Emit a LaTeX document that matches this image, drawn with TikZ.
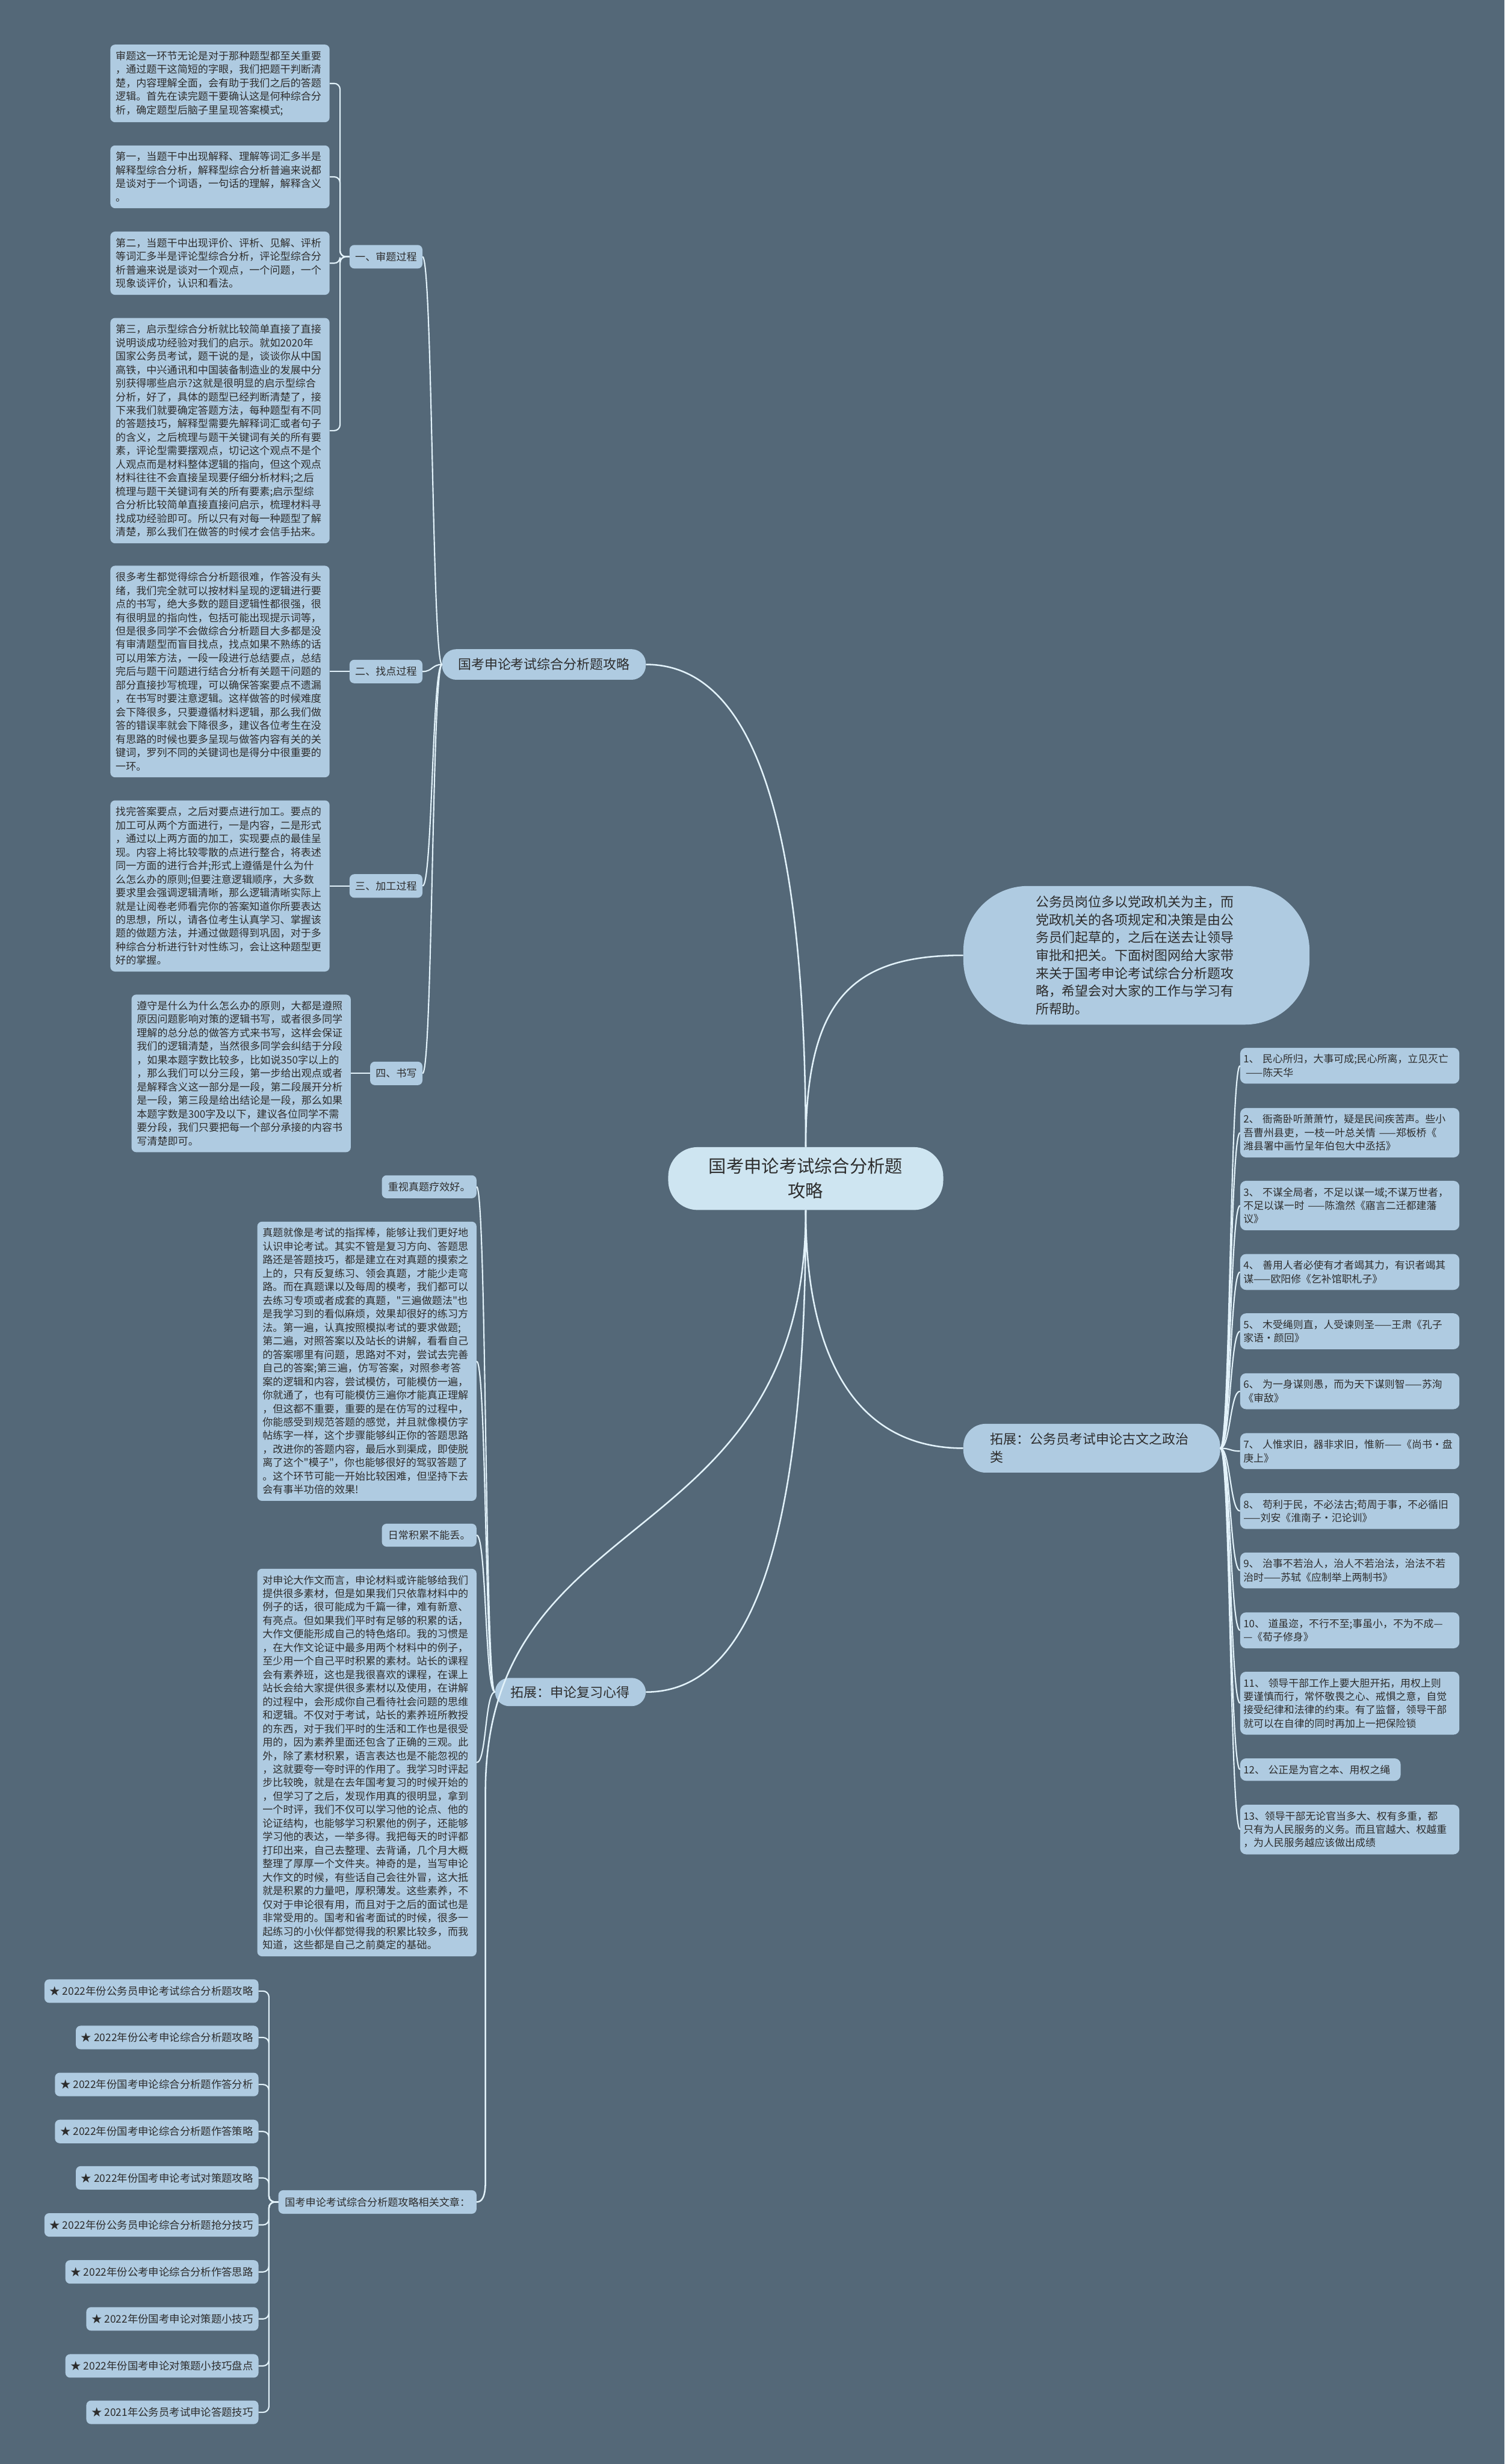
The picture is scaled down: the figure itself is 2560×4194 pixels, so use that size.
\documentclass[tikz,border=0pt]{standalone}
\usepackage{fontspec}
\newfontfamily\cjk{Noto Sans CJK SC}
\usepackage{xcolor}
\usepackage{tikz}
\definecolor{slatebg}{RGB}{84,104,120}
\definecolor{paleblue}{RGB}{175,203,225}
\definecolor{rootblue}{RGB}{206,229,241}
\definecolor{wireblue}{RGB}{226,242,250}
\definecolor{inkgray}{RGB}{45,45,45}

\begin{document}
\begin{tikzpicture}[x=1pt,y=-1pt,
 every node/.style={fill=paleblue,text=inkgray,inner sep=0pt},
 leaf/.style={rounded corners=8pt,align=left,text width=355pt,inner xsep=9pt,inner ysep=11pt,
              font=\cjk\fontsize{17.5}{23}\selectfont},
 saying/.style={leaf,rounded corners=10pt,text width=362pt,inner xsep=5.5pt,
                font=\cjk\fontsize{17.3}{23}\selectfont},
 tag/.style={rounded corners=8pt,minimum height=40pt,inner xsep=9.5pt,
             font=\cjk\fontsize{17.5}{23}\selectfont},
 article/.style={tag,inner xsep=9pt,font=\cjk\fontsize{17.8}{23}\selectfont,anchor=east},
 pill/.style={rounded corners=24pt,minimum height=52pt,inner xsep=27pt,
              font=\cjk\fontsize{22.5}{30.5}\selectfont},
 main/.style={draw=wireblue,line width=2.6pt},
 twig/.style={draw=wireblue,line width=2.2pt},
 elbow/.style={twig,rounded corners=10pt}]
 \fill[slatebg] (0,0) rectangle (2560,4194);
 \useasboundingbox (0,0) rectangle (2560,4194);

 \node[rounded corners=50pt,fill=rootblue,minimum width=468pt,minimum height=107pt,align=center,
       font=\cjk\fontsize{30}{42}\selectfont] (root) at (1371,2006) {国考申论考试综合分析题\\攻略};
 \node[rounded corners=110pt,text width=343pt,align=left,inner xsep=123pt,minimum height=236pt,
       font=\cjk\fontsize{22.5}{30.4}\selectfont,anchor=west] (intro) at (1639,1626)
       {公务员岗位多以党政机关为主，而\\党政机关的各项规定和决策是由公\\务员们起草的，之后在送去让领导\\审批和把关。下面树图网给大家带\\来关于国考申论考试综合分析题攻\\略，希望会对大家的工作与学习有\\所帮助。};
 \node[pill,rounded corners=38pt,text width=345pt,align=left,inner xsep=46pt,minimum height=83pt,
       anchor=west] (ext) at (1639,2465) {拓展：公务员考试申论古文之政治\\类};
 \node[pill,anchor=east] (gk) at (1099,1131) {国考申论考试综合分析题攻略};
 \node[pill,minimum height=48pt,anchor=east] (xd) at (1099,2880) {拓展：申论复习心得};
 \node[tag,inner xsep=11pt,anchor=east] (rel) at (811,3748) {国考申论考试综合分析题攻略相关文章：};

 \node[tag,anchor=east] (shen) at (719,437) {一、审题过程};
 \node[tag,anchor=east] (zhao) at (719,1143) {二、找点过程};
 \node[tag,anchor=east] (jia) at (719,1508) {三、加工过程};
 \node[tag,anchor=east] (shu) at (719,1827) {四、书写};

 \node[leaf,anchor=east] (shen1) at (561,142) {审题这一环节无论是对于那种题型都至关重要\\，通过题干这简短的字眼，我们把题干判断清\\楚，内容理解全面，会有助于我们之后的答题\\逻辑。首先在读完题干要确认这是何种综合分\\析，确定题型后脑子里呈现答案模式;};
 \node[leaf,anchor=east] (shen2) at (561,301) {第一，当题干中出现解释、理解等词汇多半是\\解释型综合分析，解释型综合分析普遍来说都\\是谈对于一个词语，一句话的理解，解释含义\\。};
 \node[leaf,anchor=east] (shen3) at (561,448) {第二，当题干中出现评价、评析、见解、评析\\等词汇多半是评论型综合分析，评论型综合分\\析普遍来说是谈对一个观点，一个问题，一个\\现象谈评价，认识和看法。};
 \node[leaf,anchor=east] (shen4) at (561,733) {第三，启示型综合分析就比较简单直接了直接\\说明谈成功经验对我们的启示。就如2020年\\国家公务员考试，题干说的是，谈谈你从中国\\高铁，中兴通讯和中国装备制造业的发展中分\\别获得哪些启示?这就是很明显的启示型综合\\分析，好了，具体的题型已经判断清楚了，接\\下来我们就要确定答题方法，每种题型有不同\\的答题技巧，解释型需要先解释词汇或者句子\\的含义，之后梳理与题干关键词有关的所有要\\素，评论型需要摆观点，切记这个观点不是个\\人观点而是材料整体逻辑的指向，但这个观点\\材料往往不会直接呈现要仔细分析材料;之后\\梳理与题干关键词有关的所有要素;启示型综\\合分析比较简单直接直接问启示，梳理材料寻\\找成功经验即可。所以只有对每一种题型了解\\清楚，那么我们在做答的时候才会信手拈来。};
 \node[leaf,anchor=east] (zhao1) at (561,1143) {很多考生都觉得综合分析题很难，作答没有头\\绪，我们完全就可以按材料呈现的逻辑进行要\\点的书写，绝大多数的题目逻辑性都很强，很\\有很明显的指向性，包括可能出现提示词等，\\但是很多同学不会做综合分析题目大多都是没\\有审清题型而盲目找点，找点如果不熟练的话\\可以用笨方法，一段一段进行总结要点，总结\\完后与题干问题进行结合分析有关题干问题的\\部分直接抄写梳理，可以确保答案要点不遗漏\\，在书写时要注意逻辑。这样做答的时候难度\\会下降很多，只要遵循材料逻辑，那么我们做\\答的错误率就会下降很多，建议各位考生在没\\有思路的时候也要多呈现与做答内容有关的关\\键词，罗列不同的关键词也是得分中很重要的\\一环。};
 \node[leaf,anchor=east] (jia1) at (561,1508) {找完答案要点，之后对要点进行加工。要点的\\加工可从两个方面进行，一是内容，二是形式\\，通过以上两方面的加工，实现要点的最佳呈\\现。内容上将比较零散的点进行整合，将表述\\同一方面的进行合并;形式上遵循是什么为什\\么怎么办的原则;但要注意逻辑顺序，大多数\\要求里会强调逻辑清晰，那么逻辑清晰实际上\\就是让阅卷老师看完你的答案知道你所要表达\\的思想，所以，请各位考生认真学习、掌握该\\题的做题方法，并通过做题得到巩固，对于多\\种综合分析进行针对性练习，会让这种题型更\\好的掌握。};
 \node[leaf,anchor=east] (shu1) at (597,1827) {遵守是什么为什么怎么办的原则，大都是遵照\\原因问题影响对策的逻辑书写，或者很多同学\\理解的总分总的做答方式来书写，这样会保证\\我们的逻辑清楚，当然很多同学会纠结于分段\\，如果本题字数比较多，比如说350字以上的\\，那么我们可以分三段，第一步给出观点或者\\是解释含义这一部分是一段，第二段展开分析\\是一段，第三段是给出结论是一段，那么如果\\本题字数是300字及以下，建议各位同学不需\\要分段，我们只要把每一个部分承接的内容书\\写清楚即可。};

 \node[tag,inner xsep=10.5pt,minimum height=39pt,anchor=east] (zhen) at (811,2020) {重视真题疗效好。};
 \node[leaf,anchor=east] (zhen1) at (811,2317) {真题就像是考试的指挥棒，能够让我们更好地\\认识申论考试。其实不管是复习方向、答题思\\路还是答题技巧，都是建立在对真题的摸索之\\上的，只有反复练习、领会真题，才能少走弯\\路。而在真题课以及每周的模考，我们都可以\\去练习专项或者成套的真题，"三遍做题法"也\\是我学习到的看似麻烦，效果却很好的练习方\\法。第一遍，认真按照模拟考试的要求做题;\\第二遍，对照答案以及站长的讲解，看看自己\\的答案哪里有问题，思路对不对，尝试去完善\\自己的答案;第三遍，仿写答案，对照参考答\\案的逻辑和内容，尝试模仿，可能模仿一遍，\\你就通了，也有可能模仿三遍你才能真正理解\\，但这都不重要，重要的是在仿写的过程中，\\你能感受到规范答题的感觉，并且就像模仿字\\帖练字一样，这个步骤能够纠正你的答题思路\\，改进你的答题内容，最后水到渠成，即使脱\\离了这个"模子"，你也能够很好的驾驭答题了\\。这个环节可能一开始比较困难，但坚持下去\\会有事半功倍的效果!};
 \node[tag,inner xsep=10.5pt,minimum height=39pt,anchor=east] (ji) at (811,2613) {日常积累不能丢。};
 \node[leaf,anchor=east] (ji1) at (811,3000) {对申论大作文而言，申论材料或许能够给我们\\提供很多素材，但是如果我们只依靠材料中的\\例子的话，很可能成为千篇一律，难有新意、\\有亮点。但如果我们平时有足够的积累的话，\\大作文便能形成自己的特色烙印。我的习惯是\\，在大作文论证中最多用两个材料中的例子，\\至少用一个自己平时积累的素材。站长的课程\\会有素养班，这也是我很喜欢的课程，在课上\\站长会给大家提供很多素材以及使用，在讲解\\的过程中，会形成你自己看待社会问题的思维\\和逻辑。不仅对于考试，站长的素养班所教授\\的东西，对于我们平时的生活和工作也是很受\\用的，因为素养里面还包含了正确的三观。此\\外，除了素材积累，语言表达也是不能忽视的\\，这就要夸一夸时评的作用了。我学习时评起\\步比较晚，就是在去年国考复习的时候开始的\\，但学习了之后，发现作用真的很明显，拿到\\一个时评，我们不仅可以学习他的论点、他的\\论证结构，也能够学习积累他的例子，还能够\\学习他的表达，一举多得。我把每天的时评都\\打印出来，自己去整理、去背诵，几个月大概\\整理了厚厚一个文件夹。神奇的是，当写申论\\大作文的时候，有些话自己会往外冒，这大抵\\就是积累的力量吧，厚积薄发。这些素养，不\\仅对于申论很有用，而且对于之后的面试也是\\非常受用的。国考和省考面试的时候，很多一\\起练习的小伙伴都觉得我的积累比较多，而我\\知道，这些都是自己之前奠定的基础。};

 \node[article] (art1) at (440,3389) {★ 2022年份公务员申论考试综合分析题攻略};
 \node[article] (art2) at (440,3468) {★ 2022年份公考申论综合分析题攻略};
 \node[article] (art3) at (440,3548) {★ 2022年份国考申论综合分析题作答分析};
 \node[article] (art4) at (440,3628) {★ 2022年份国考申论综合分析题作答策略};
 \node[article] (art5) at (440,3707) {★ 2022年份国考申论考试对策题攻略};
 \node[article] (art6) at (440,3787) {★ 2022年份公务员申论综合分析题抢分技巧};
 \node[article] (art7) at (440,3867) {★ 2022年份公考申论综合分析作答思路};
 \node[article] (art8) at (440,3947) {★ 2022年份国考申论对策题小技巧};
 \node[article] (art9) at (440,4027) {★ 2022年份国考申论对策题小技巧盘点};
 \node[article] (art10) at (440,4106) {★ 2021年公务员考试申论答题技巧};

 \node[saying,anchor=west] (q1) at (2110,1814) {1、~民心所归，大事可成;民心所离，立见灭亡\\\hspace*{4pt}——陈天华};
 \node[saying,anchor=west] (q2) at (2110,1928) {2、~衙斋卧听萧萧竹，疑是民间疾苦声。些小\\吾曹州县吏，一枝一叶总关情~——郑板桥《\\潍县署中画竹呈年伯包大中丞括》};
 \node[saying,anchor=west] (q3) at (2110,2052) {3、~不谋全局者，不足以谋一域;不谋万世者，\\不足以谋一时~——陈澹然《寤言二迁都建藩\\议》};
 \node[saying,anchor=west] (q4) at (2110,2165) {4、~善用人者必使有才者竭其力，有识者竭其\\谋——欧阳修《乞补馆职札子》};
 \node[saying,anchor=west] (q5) at (2110,2266) {5、~木受绳则直，人受谏则圣——王肃《孔子\\家语·颜回》};
 \node[saying,anchor=west] (q6) at (2110,2368) {6、~为一身谋则愚，而为天下谋则智——苏洵\\《审敌》};
 \node[saying,anchor=west] (q7) at (2110,2470) {7、~人惟求旧，器非求旧，惟新——《尚书·盘\\庚上》};
 \node[saying,anchor=west] (q8) at (2110,2572) {8、~苟利于民，不必法古;苟周于事，不必循旧\\——刘安《淮南子·氾论训》};
 \node[saying,anchor=west] (q9) at (2110,2673) {9、~治事不若治人，治人不若治法，治法不若\\治时——苏轼《应制举上两制书》};
 \node[saying,anchor=west] (q10) at (2110,2775) {10、~道虽迩，不行不至;事虽小，不为不成—\\—《荀子修身》};
 \node[saying,anchor=west] (q11) at (2110,2899) {11、~领导干部工作上要大胆开拓，用权上则\\要谨慎而行，常怀敬畏之心、戒惧之意，自觉\\接受纪律和法律的约束。有了监督，领导干部\\就可以在自律的同时再加上一把保险锁};
 \node[saying,text width=262pt,anchor=west] (q12) at (2110,3012) {12、~公正是为官之本、用权之绳};
 \node[saying,anchor=west] (q13) at (2110,3114) {13、领导干部无论官当多大、权有多重，都\\只有为人民服务的义务。而且官越大、权越重\\，为人民服务越应该做出成绩};

 \draw[main] (root.north) .. controls (1371,1453) and (1300,1131) .. (gk.east);
 \draw[main] (root.north) .. controls (1371,1700) and (1450,1626) .. (intro.west);
 \draw[main] (root.south) .. controls (1371,2300) and (1450,2465) .. (ext.west);
 \draw[main] (root.south) .. controls (1371,2700) and (1250,2880) .. (xd.east);
 \draw[main] (root.south) .. controls (1371,2650) and (826,2550) .. (826,3050) -- (826,3712)
   .. controls (826,3740) and (820,3748) .. (rel.east);

 \draw[twig] (gk.west) .. controls +(-17,0) and +(17,0) .. (shen.east);
 \draw[twig] (gk.west) .. controls +(-17,0) and +(17,0) .. (zhao.east);
 \draw[twig] (gk.west) .. controls +(-17,0) and +(17,0) .. (jia.east);
 \draw[twig] (gk.west) .. controls +(-17,0) and +(17,0) .. (shu.east);
 \draw[elbow] (shen.west) -- ++(-16,0) |- (shen1.east);
 \draw[elbow] (shen.west) -- ++(-16,0) |- (shen2.east);
 \draw[elbow] (shen.west) -- ++(-16,0) |- (shen3.east);
 \draw[elbow] (shen.west) -- ++(-16,0) |- (shen4.east);
 \draw[twig] (zhao.west) -- (zhao1.east);
 \draw[twig] (jia.west) -- (jia1.east);
 \draw[twig] (shu.west) -- (shu1.east);

 \draw[twig] (xd.west) .. controls +(-17,0) and +(17,0) .. (zhen.east);
 \draw[twig] (xd.west) .. controls +(-17,0) and +(17,0) .. (zhen1.east);
 \draw[twig] (xd.west) .. controls +(-17,0) and +(17,0) .. (ji.east);
 \draw[twig] (xd.west) .. controls +(-17,0) and +(17,0) .. (ji1.east);

 \draw[elbow] (rel.west) -- ++(-16,0) |- (art1.east);
 \draw[elbow] (rel.west) -- ++(-16,0) |- (art2.east);
 \draw[elbow] (rel.west) -- ++(-16,0) |- (art3.east);
 \draw[elbow] (rel.west) -- ++(-16,0) |- (art4.east);
 \draw[elbow] (rel.west) -- ++(-16,0) |- (art5.east);
 \draw[elbow] (rel.west) -- ++(-16,0) |- (art6.east);
 \draw[elbow] (rel.west) -- ++(-16,0) |- (art7.east);
 \draw[elbow] (rel.west) -- ++(-16,0) |- (art8.east);
 \draw[elbow] (rel.west) -- ++(-16,0) |- (art9.east);
 \draw[elbow] (rel.west) -- ++(-16,0) |- (art10.east);

 \draw[twig] (ext.east) .. controls +(17,0) and +(-17,0) .. (q1.west);
 \draw[twig] (ext.east) .. controls +(17,0) and +(-17,0) .. (q2.west);
 \draw[twig] (ext.east) .. controls +(17,0) and +(-17,0) .. (q3.west);
 \draw[twig] (ext.east) .. controls +(17,0) and +(-17,0) .. (q4.west);
 \draw[twig] (ext.east) .. controls +(17,0) and +(-17,0) .. (q5.west);
 \draw[twig] (ext.east) .. controls +(17,0) and +(-17,0) .. (q6.west);
 \draw[twig] (ext.east) .. controls +(17,0) and +(-17,0) .. (q7.west);
 \draw[twig] (ext.east) .. controls +(17,0) and +(-17,0) .. (q8.west);
 \draw[twig] (ext.east) .. controls +(17,0) and +(-17,0) .. (q9.west);
 \draw[twig] (ext.east) .. controls +(17,0) and +(-17,0) .. (q10.west);
 \draw[twig] (ext.east) .. controls +(17,0) and +(-17,0) .. (q11.west);
 \draw[twig] (ext.east) .. controls +(17,0) and +(-17,0) .. (q12.west);
 \draw[twig] (ext.east) .. controls +(17,0) and +(-17,0) .. (q13.west);
\end{tikzpicture}
\end{document}
